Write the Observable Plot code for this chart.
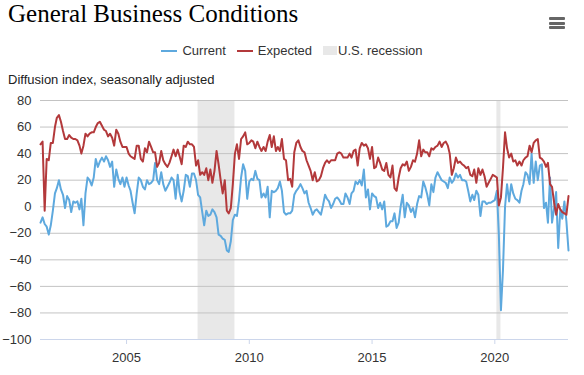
<!DOCTYPE html>
<html>
<head>
<meta charset="utf-8">
<script src="https://cdn.jsdelivr.net/npm/d3@7"></script>
<script src="https://cdn.jsdelivr.net/npm/@observablehq/plot@0.6"></script>
<style>
  html, body { margin: 0; padding: 0; background: #fff; }
  body { width: 584px; height: 375px; position: relative; overflow: hidden; font-family: "Liberation Sans", Arial, sans-serif; }
  #title { position: absolute; left: 8px; top: -1px; font-family: "Liberation Serif", "Times New Roman", serif; font-size: 25px; line-height: 29px; color: #000; white-space: nowrap; }
  #menu { position: absolute; left: 549px; top: 17px; width: 16px; }
  #menu div { height: 3px; background: #666; margin-bottom: 1.7px; border-radius: 1px; }
  #legend { position: absolute; left: 0; top: 43px; width: 584px; display: flex; justify-content: center; align-items: center; font-size: 13px; line-height: 15px; color: #333; }
  .item { display: flex; align-items: center; margin: 0 5.5px; }
  .sw { width: 16px; height: 2px; margin-right: 5px; }
  .box { width: 14px; height: 9px; margin-right: 1px; background: #e6e6e6; }
  #ylabel { position: absolute; left: 8px; top: 72px; font-size: 13px; line-height: 15px; color: #222; white-space: nowrap; }
  #chart { position: absolute; left: 0; top: 88px; }
  #chart [aria-label="x-axis tick"] path, #chart [aria-label="x-axis tick"] { stroke: #ccd6eb; }
</style>
</head>
<body>
<div id="title">General Business Conditions</div>
<div id="menu"><div></div><div></div><div></div></div>
<div id="legend"></div>
<div id="ylabel">Diffusion index, seasonally adjusted</div>
<div id="chart"></div>
<script>
// Monthly observations, July 2001 through January 2023
const firstMonth = "2001-07-01";
const lastMonth = "2023-01-01";

const current = [
  -12, -8, -13, -15, -21, -14,
  -3, 10, 14, 20, 13, 9, -1, 8, 5, -4, 4, 3,
  4, -2, 6, -14, 10, 22, 20, 16, 22, 36, 30, 34,
  37, 34, 38, 35, 30, 34, 15, 28, 21, 17, 22, 15,
  22, 16, 12, 3, -5, 10, 22, 20, 15, 13, 20, 17,
  18, 20, 33, 20, 17, 26, 17, 12, 15, 18, 22, 20,
  6, 24, 11, 4, 12, 24, 23, 15, 25, 25, 20, 9,
  7, -4, -14, -3, -7, -6, -2, -4, -8, -21, -22, -24,
  -25, -33, -34, -26, -10, -6, -7, 5, 22, 32, 27, 6,
  19, 21, 20, 27, 21, 20, 7, 10, 7, 15, -8, 12,
  11, 12, 14, 19, 12, -4, -6, -5, -5, -3, 9, 12,
  14, 17, 14, 10, 12, 3, -1, -6, -3, -2, -4, -6,
  1, 9, 6, 4, -1, 2, 6, 7, 5, 2, 2, 10,
  7, 2, 10, 12, 19, 17, 20, 16, 28, 7, 13, -2,
  10, 8, 7, -1, 3, -2, 4, -15, -14, -11, -11, -5,
  -16, -12, 0, 9, -8, 3, 1, -4, -1, -8, 2, 8,
  7, 19, 15, 9, 1, 17, 11, 22, 26, 23, 20, 19,
  18, 14, 22, 18, 20, 25, 22, 24, 20, 20, 19, 12,
  4, 9, 5, 12, 9, -7, 4, 4, 2, 3, 3, 4,
  5, 12, -21, -78, -48, 0, 17, 4, 17, 10, 6, 5,
  3, 12, 17, 26, 24, 17, 40, 18, 34, 20, 31, 32,
  -1, 3, -12, 22, -12, -1, 11, -31, -2, -9, 4, -11,
  -33
];

const expected = [
  47, 49, -3, 36, 35, 48,
  48, 60, 67, 69, 64, 57, 51, 51, 54, 52, 51, 51,
  50, 46, 40, 46, 55, 53, 55, 56, 56, 60, 63, 64,
  61, 58, 57, 53, 55, 52, 46, 58, 55, 49, 45, 45,
  45, 40, 38, 37, 36, 46, 46, 36, 34, 44, 41, 49,
  45, 41, 41, 30, 33, 42, 35, 32, 30, 33, 38, 43,
  38, 43, 38, 32, 46, 45, 49, 47, 47, 45, 31, 35,
  24, 26, 24, 29, 20, 28, 18, 27, 42, 32, 20, 10,
  20, -3, -5, -1, 17, 40, 47, 36, 51, 53, 56, 47,
  48, 50, 49, 44, 49, 45, 42, 45, 42, 49, 54, 45,
  53, 42, 45, 42, 51, 36, 35, 20, 21, 15, 41, 48,
  50, 45, 42, 41, 35, 31, 27, 20, 26, 19, 20, 23,
  29, 33, 35, 33, 35, 35, 35, 40, 41, 40, 37, 37,
  37, 40, 37, 42, 43, 31, 44, 48, 46, 47, 44, 36,
  45, 29, 30, 37, 33, 28, 27, 33, 24, 22, 31, 14,
  12, 22, 29, 32, 31, 34, 27, 30, 35, 34, 40, 50,
  38, 43, 41, 41, 38, 44, 43, 45, 46, 49, 45, 48,
  49, 46, 40, 24, 29, 37, 33, 34, 32, 31, 29, 30,
  24, 23, 28, 18, 29, 24, 28, 23, 15, 18, 21, 24,
  23, 22, 1, 7, 29, 56, 44, 37, 40, 34, 35, 31,
  34, 31, 35, 37, 38, 46, 41, 48, 50, 51, 37, 36,
  34, 30, 33, 17, 15, 3, -6, 2, -2, -4, -5, -6,
  8
];

const recessionStarts = ["2007-12-01", "2020-02-01"];
const recessionEnds = ["2009-06-01", "2020-04-01"];

const yTicks = [-100, -80, -60, -40, -20, 0, 20, 40, 60, 80];
const xTickYears = ["2005-01-01", "2010-01-01", "2015-01-01", "2020-01-01"];

const seriesNames = ["Current", "Expected"];
const seriesColors = ["#5ea9de", "#b3393b"];
const recessionLabel = "U.S. recession";
const recessionColor = "#e8e8e8";

// Build tables
const parse = s => new Date(s + "T00:00:00Z");
const months = d3.utcMonth.range(parse(firstMonth), d3.utcMonth.offset(parse(lastMonth), 1));
const rows = months.map((date, i) => ({date, current: current[i], expected: expected[i]}));
const recessions = recessionStarts.map((s, i) => ({start: parse(s), end: parse(recessionEnds[i])}));

// Legend
const legend = document.getElementById("legend");
seriesNames.forEach((name, i) => {
  const it = document.createElement("div");
  it.className = "item";
  it.innerHTML = `<div class="sw" style="background:${seriesColors[i]}"></div><span>${name}</span>`;
  legend.appendChild(it);
});
{
  const it = document.createElement("div");
  it.className = "item";
  it.innerHTML = `<div class="box" style="background:${recessionColor}"></div><span>${recessionLabel}</span>`;
  legend.appendChild(it);
}

const chart = Plot.plot({
  width: 584,
  height: 287,
  marginTop: 12,
  marginBottom: 36,
  marginLeft: 40,
  marginRight: 16,
  style: {fontFamily: "Liberation Sans, Arial, sans-serif", fontSize: "13px", color: "#333", background: "transparent"},
  x: {
    type: "utc",
    domain: [parse(firstMonth), parse(lastMonth)],
    ticks: xTickYears.map(parse),
    tickFormat: d3.utcFormat("%Y"),
    tickSize: 5,
    tickPadding: 8,
    label: null
  },
  y: {
    domain: [yTicks[0], yTicks[yTicks.length - 1]],
    ticks: yTicks,
    tickSize: 0,
    tickPadding: 9,
    label: null
  },
  marks: [
    Plot.rect(recessions, {x1: "start", x2: "end", fill: recessionColor}),
    Plot.ruleY(yTicks.filter(v => v > yTicks[0]), {stroke: "#c3c3c3", strokeWidth: 1}),
    Plot.ruleY([yTicks[0]], {stroke: "#ccd6eb", strokeWidth: 1}),
    Plot.line(rows, {x: "date", y: "current", stroke: seriesColors[0], strokeWidth: 2}),
    Plot.line(rows, {x: "date", y: "expected", stroke: seriesColors[1], strokeWidth: 2})
  ]
});
document.getElementById("chart").appendChild(chart);
</script>
</body>
</html>
